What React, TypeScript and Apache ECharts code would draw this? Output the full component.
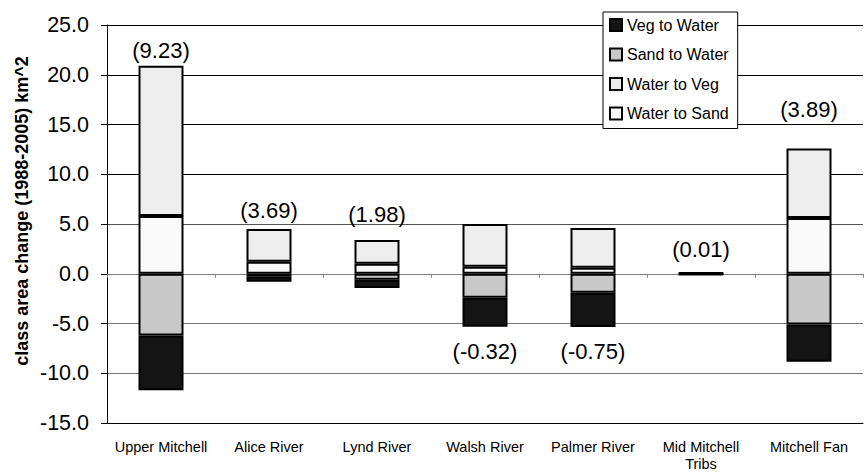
import React, { useEffect, useRef } from "react";
import * as echarts from "echarts";

const categories = [
  "Upper Mitchell",
  "Alice River",
  "Lynd River",
  "Walsh River",
  "Palmer River",
  "Mid Mitchell\nTribs",
  "Mitchell Fan",
];
const waterToSand = [5.8, 1.2, 1.0, 0.7, 0.6, 0.05, 5.6];
const waterToVeg = [15.1, 3.3, 2.4, 4.3, 4.0, 0.05, 7.0];
const sandToWater = [-6.2, -0.25, -0.6, -2.4, -1.9, -0.04, -5.1];
const vegToWater = [-5.5, -0.56, -0.82, -2.92, -3.45, -0.05, -3.75];
const netChange = [9.23, 3.69, 1.98, -0.32, -0.75, 0.01, 3.89];
const netLabelAt = [22.4, 6.4, 6.0, -7.85, -7.85, 2.45, 16.5];
const yTicks = { min: -15, max: 25, step: 5 };
const legendNames = ["Veg to Water", "Sand to Water", "Water to Veg", "Water to Sand"];

const FONT = "Arial, 'Liberation Sans', sans-serif";

export default function App() {
  const ref = useRef<HTMLDivElement>(null);
  useEffect(() => {
    if (!ref.current) return;
    const chart = echarts.init(ref.current, null, { renderer: "svg" });
    const barBase = (name: string, data: number[], color: string) => ({
      name,
      type: "bar",
      stack: "total",
      data,
      barWidth: 45,
      xAxisIndex: 0,
      itemStyle: { color, borderColor: "#000", borderWidth: 2 },
      emphasis: { disabled: true },
    });
    chart.setOption({
      animation: false,
      textStyle: { fontFamily: FONT },
      grid: { left: 107, right: 2, top: 25, bottom: 48, containLabel: false },
      legend: {
        data: legendNames,
        orient: "vertical",
        left: 603,
        top: 12,
        icon: "rect",
        itemWidth: 12,
        itemHeight: 12,
        itemGap: 13.5,
        itemTextGap: 4,
        padding: [5, 9, 7, 6],
        backgroundColor: "#fff",
        borderColor: "#000",
        borderWidth: 1,
        borderRadius: 0,
        selectedMode: false,
        textStyle: { fontSize: 16, color: "#000", fontFamily: FONT },
        z: 10,
      },
      xAxis: [
        {
          type: "category",
          data: categories,
          position: "bottom",
          axisLine: { onZero: true, lineStyle: { color: "#808080", width: 1 } },
          axisTick: { show: true, length: 4, lineStyle: { color: "#808080" } },
          axisLabel: { show: false },
          splitLine: { show: false },
        },
        {
          type: "category",
          data: categories,
          position: "bottom",
          axisLine: { onZero: false, lineStyle: { color: "#000", width: 1 } },
          axisTick: { show: false },
          axisLabel: {
            show: true,
            margin: 15,
            fontSize: 14.5,
            lineHeight: 17,
            color: "#000",
            fontFamily: FONT,
            interval: 0,
          },
          splitLine: { show: false },
        },
      ],
      yAxis: {
        type: "value",
        min: yTicks.min,
        max: yTicks.max,
        interval: yTicks.step,
        axisLine: { show: true, lineStyle: { color: "#000", width: 1 } },
        axisTick: { show: true, length: 6, lineStyle: { color: "#000" } },
        axisLabel: {
          margin: 18,
          fontSize: 21.5,
          color: "#000",
          fontFamily: FONT,
          formatter: (v: number) => v.toFixed(1),
        },
        splitLine: {
          show: true,
          lineStyle: {
            color: ["#000", "#777", "#777", "#777", "#555", "#000", "#000", "#000", "#000"],
            width: 1,
          },
        },
      },
      series: [
        barBase("Water to Sand", waterToSand, "#fafafa"),
        barBase("Water to Veg", waterToVeg, "#eeeeee"),
        barBase("Sand to Water", sandToWater, "#c8c8c8"),
        barBase("Veg to Water", vegToWater, "#141414"),
        {
          name: "net",
          type: "scatter",
          xAxisIndex: 0,
          symbolSize: 1,
          itemStyle: { color: "rgba(0,0,0,0)" },
          data: netLabelAt.map((y, i) => [i, y]),
          label: {
            show: true,
            position: "inside",
            fontSize: 22,
            color: "#000",
            opacity: 1,
            textBorderWidth: 0,
            textBorderColor: "rgba(0,0,0,0)",
            fontFamily: FONT,
            formatter: (p: any) => "(" + netChange[p.dataIndex].toFixed(2) + ")",
          },
          emphasis: { disabled: true },
          z: 5,
        },
      ],
      graphic: [
        {
          type: "text",
          x: 22,
          y: 211,
          rotation: Math.PI / 2,
          style: {
            text: "class area change (1988-2005) km^2",
            font: "bold 18px " + FONT,
            fill: "#000",
            textAlign: "center",
            textVerticalAlign: "middle",
          },
        },
      ],
    });
    return () => chart.dispose();
  }, []);
  return (
    <div
      ref={ref}
      style={{ position: "absolute", left: 0, top: 0, width: 865, height: 472 }}
    />
  );
}
